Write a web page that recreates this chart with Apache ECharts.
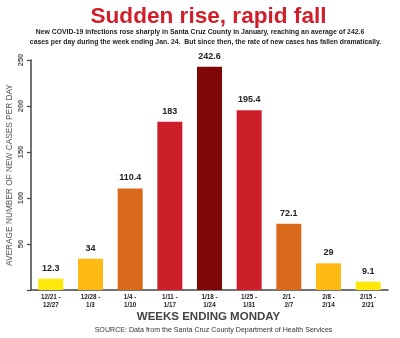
<!DOCTYPE html>
<html>
<head>
<meta charset="utf-8">
<script src="https://cdn.jsdelivr.net/npm/echarts@6/dist/echarts.min.js"></script>
<style>
  html, body { margin: 0; padding: 0; background: #fff; }
  #chart { width: 400px; height: 338px; }
</style>
</head>
<body>
<div id="chart"></div>
<script>
// Weekly periods (two-line labels) and average daily new cases
var weeks = ['12/21 -\n12/27', '12/28 -\n1/3', '1/4 -\n1/10', '1/11 -\n1/17', '1/18 -\n1/24',
             '1/25 -\n1/31', '2/1 -\n2/7', '2/8 -\n2/14', '2/15 -\n2/21'];
var avgCases = [12.3, 34, 110.4, 183, 242.6, 195.4, 72.1, 29, 9.1];
var barColors = ['#fce80a', '#fdbb13', '#d96a1c', '#cd1f29', '#7f0707',
                 '#cd1f29', '#d96a1c', '#fdbb13', '#fce80a'];
var yTicks = [0, 50, 100, 150, 200, 250];

var chart = echarts.init(document.getElementById('chart'));
var font = '"Liberation Sans", Arial, Helvetica, sans-serif';

function centeredText(text, x, y, style) {
  return {
    text: text, left: x, top: y, textAlign: 'center', padding: 0,
    textStyle: Object.assign({ fontFamily: font }, style)
  };
}

chart.setOption({
  animation: false,
  textStyle: { fontFamily: font },
  title: [
    centeredText('Sudden rise, rapid fall', 208.5, 5,
      { color: '#cf1f2a', fontSize: 22.6, fontWeight: 'bold' }),
    centeredText('New COVID-19 infections rose sharply in Santa Cruz County in January, reaching an average of 242.6', 200, 29,
      { color: '#222', fontSize: 6.85, fontWeight: 'bold' }),
    centeredText('cases per day during the week ending Jan. 24.  But since then, the rate of new cases has fallen dramatically.', 205.5, 38.5,
      { color: '#222', fontSize: 6.85, fontWeight: 'bold' }),
    centeredText('WEEKS ENDING MONDAY', 208.5, 311,
      { color: '#444', fontSize: 11.5, fontWeight: 'bold' }),
    centeredText('SOURCE: Data from the Santa Cruz County Department of Health Services', 213.5, 327,
      { color: '#333', fontSize: 7.1, fontWeight: 'normal' })
  ],
  grid: { left: 31, right: 12, top: 60, bottom: 48, outerBoundsMode: 'none', containLabel: false },
  xAxis: {
    type: 'category',
    data: weeks,
    axisLine: { lineStyle: { color: '#444', width: 1.5 } },
    axisTick: { show: false },
    axisLabel: { color: '#222', fontSize: 6.3, fontWeight: 'bold', lineHeight: 8, margin: 3, interval: 0 }
  },
  yAxis: {
    type: 'value',
    min: yTicks[0], max: yTicks[yTicks.length - 1], interval: 50,
    name: 'AVERAGE NUMBER OF NEW CASES PER DAY',
    nameLocation: 'middle',
    nameRotate: 90,
    nameGap: 17,
    nameMoveOverlap: false,
    nameTextStyle: { color: '#555', fontSize: 8.3, fontFamily: font },
    axisLine: { show: true, lineStyle: { color: '#444', width: 1.5 } },
    axisTick: { show: true, length: 4, lineStyle: { color: '#444', width: 1.2 } },
    splitLine: { show: false },
    axisLabel: {
      rotate: 90, margin: 6, color: '#555', fontSize: 7.5, fontWeight: 'bold',
      formatter: function (v) { return v === 0 ? '' : String(v); }
    }
  },
  series: [{
    type: 'bar',
    data: avgCases.map(function (v, i) {
      return { value: v, itemStyle: { color: barColors[i] } };
    }),
    barWidth: 25,
    label: {
      show: true, position: 'top', distance: 6,
      color: '#222', fontSize: 9, fontWeight: 'bold', fontFamily: font
    }
  }]
});
</script>
</body>
</html>
